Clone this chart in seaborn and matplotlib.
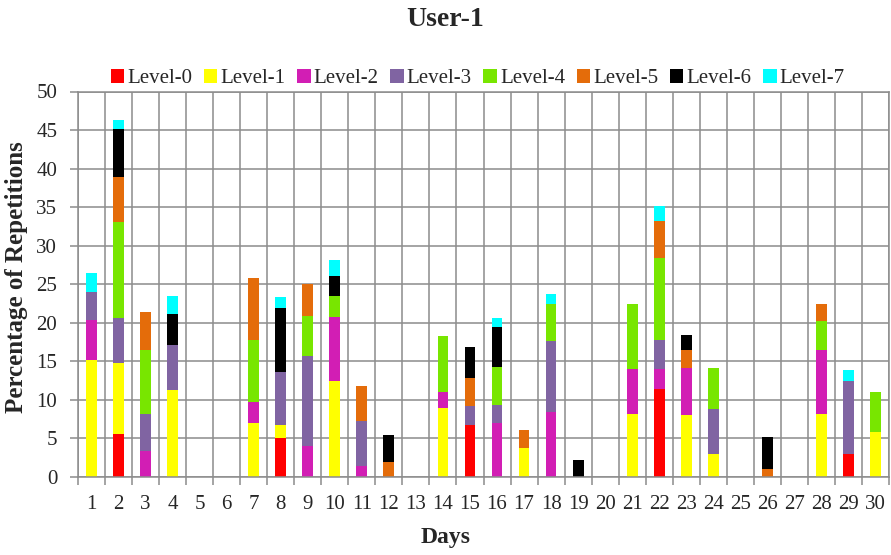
import numpy as np
import pandas as pd
import seaborn as sns
import matplotlib.pyplot as plt
from matplotlib.patches import Patch
from matplotlib.ticker import MultipleLocator

# ──────────────────────────────
# Data
# ──────────────────────────────
days = list(range(1, 31))
levels = ["Level-0", "Level-1", "Level-2", "Level-3",
          "Level-4", "Level-5", "Level-6", "Level-7"]
colors = ["#FF0000", "#FFFF00", "#D21EB4", "#8064A2",
          "#78E600", "#E46C0A", "#000000", "#00FFFF"]

level_0 = [0, 5.6, 0, 0, 0, 0, 0, 5.0, 0, 0, 0, 0, 0, 0, 6.8,
           0, 0, 0, 0, 0, 0, 11.4, 0, 0, 0, 0, 0, 0, 3.0, 0]
level_1 = [15.2, 9.2, 0, 11.3, 0, 0, 7.0, 1.8, 0, 12.4, 0, 0, 0, 9.0, 0,
           0, 3.7, 0, 0, 0, 8.2, 0, 8.0, 3.0, 0, 0, 0, 8.2, 0, 5.8]
level_2 = [5.2, 0, 3.4, 0, 0, 0, 2.7, 0, 4.0, 8.3, 1.4, 0, 0, 2.0, 0,
           7.0, 0, 8.4, 0, 0, 5.8, 2.6, 6.2, 0, 0, 0, 0, 8.3, 0, 0]
level_3 = [3.6, 5.8, 4.8, 5.8, 0, 0, 0, 6.8, 11.7, 0, 5.8, 0, 0, 0, 2.4,
           2.4, 0, 9.2, 0, 0, 0, 3.8, 0, 5.8, 0, 0, 0, 0, 9.4, 0]
level_4 = [0, 12.5, 8.3, 0, 0, 0, 8.1, 0, 5.2, 2.8, 0, 0, 0, 7.3, 0,
           4.9, 0, 4.9, 0, 0, 8.4, 10.6, 0, 5.4, 0, 0, 0, 3.7, 0, 5.2]
level_5 = [0, 5.8, 4.9, 0, 0, 0, 8.0, 0, 4.1, 0, 4.6, 2.0, 0, 0, 3.7,
           0, 2.4, 0, 0, 0, 0, 4.8, 2.3, 0, 0, 1.0, 0, 2.2, 0, 0]
level_6 = [0, 6.2, 0, 4.1, 0, 0, 0, 8.3, 0, 2.6, 0, 3.4, 0, 0, 4.0,
           5.2, 0, 0, 2.25, 0, 0, 0, 1.9, 0, 0, 4.2, 0, 0, 0, 0]
level_7 = [2.5, 1.2, 0, 2.3, 0, 0, 0, 1.4, 0, 2.0, 0, 0, 0, 0, 0,
           1.1, 0, 1.2, 0, 0, 0, 2.0, 0, 0, 0, 0, 0, 0, 1.5, 0]

series = [level_0, level_1, level_2, level_3,
          level_4, level_5, level_6, level_7]

df = pd.DataFrame({
    "Day": np.tile(days, len(levels)),
    "Level": np.repeat(levels, len(days)),
    "Value": np.concatenate(series),
})

# ──────────────────────────────
# Plot
# ──────────────────────────────
sns.set_style("white")
plt.rcParams["font.family"] = ["Liberation Serif", "DejaVu Serif"]

fig = plt.figure(figsize=(8.91, 5.55), dpi=100)
ax = fig.add_axes([78 / 891, 78 / 555, 811 / 891, 385.5 / 555])

palette = dict(zip(levels, colors))
# seaborn stacks the last hue level at the bottom, so reverse the order
sns.histplot(
    data=df, x="Day", weights="Value", hue="Level",
    hue_order=levels[::-1], palette=palette, multiple="stack",
    discrete=True, shrink=0.4, alpha=1, linewidth=0,
    legend=False, ax=ax,
)

ax.set_xlim(0.5, 30.5)
ax.set_ylim(0, 50)
ax.yaxis.set_major_locator(MultipleLocator(5))
ax.set_xticks(days)
ax.set_xticks(np.arange(0.5, 31, 1), minor=True)
ax.tick_params(axis="x", which="major", length=0, pad=13, labelsize=15)
ax.tick_params(axis="x", which="minor", length=6, color="#8c8c8c",
               width=1.1, direction="out", bottom=True)
ax.tick_params(axis="y", which="major", length=6, color="#8c8c8c",
               width=1.1, direction="out", left=True, pad=9, labelsize=15)

ax.grid(True, axis="y", which="major", color="#8c8c8c", linewidth=1.1)
ax.grid(True, axis="x", which="minor", color="#8c8c8c", linewidth=1.1)
ax.grid(False, axis="x", which="major")
ax.set_axisbelow(True)
for side in ax.spines.values():
    side.set_color("#8c8c8c")
    side.set_linewidth(1.1)

ax.set_xlabel("")
ax.set_ylabel("")
fig.text(0.5, 1 - 537 / 555, "Days", ha="center", va="center",
         fontsize=17, fontweight="bold")
fig.text(17 / 891, 1 - 277 / 555, "Percentage of Repetitions", ha="center",
         va="center", rotation=90, fontsize=18, fontweight="bold")
fig.text(0.5, 1 - 19 / 555, "User-1", ha="center", va="center",
         fontsize=20, fontweight="bold")

handles = [Patch(facecolor=c, edgecolor="none", label=l)
           for l, c in zip(levels, colors)]
ax.legend(handles=handles, loc="center", bbox_to_anchor=(0.493, 1.033),
          ncol=8, frameon=False, fontsize=15, handlelength=0.65,
          handleheight=0.65, handletextpad=0.15, columnspacing=0.55,
          borderaxespad=0, borderpad=0)

plt.savefig("out.png", dpi=100)
plt.close()
